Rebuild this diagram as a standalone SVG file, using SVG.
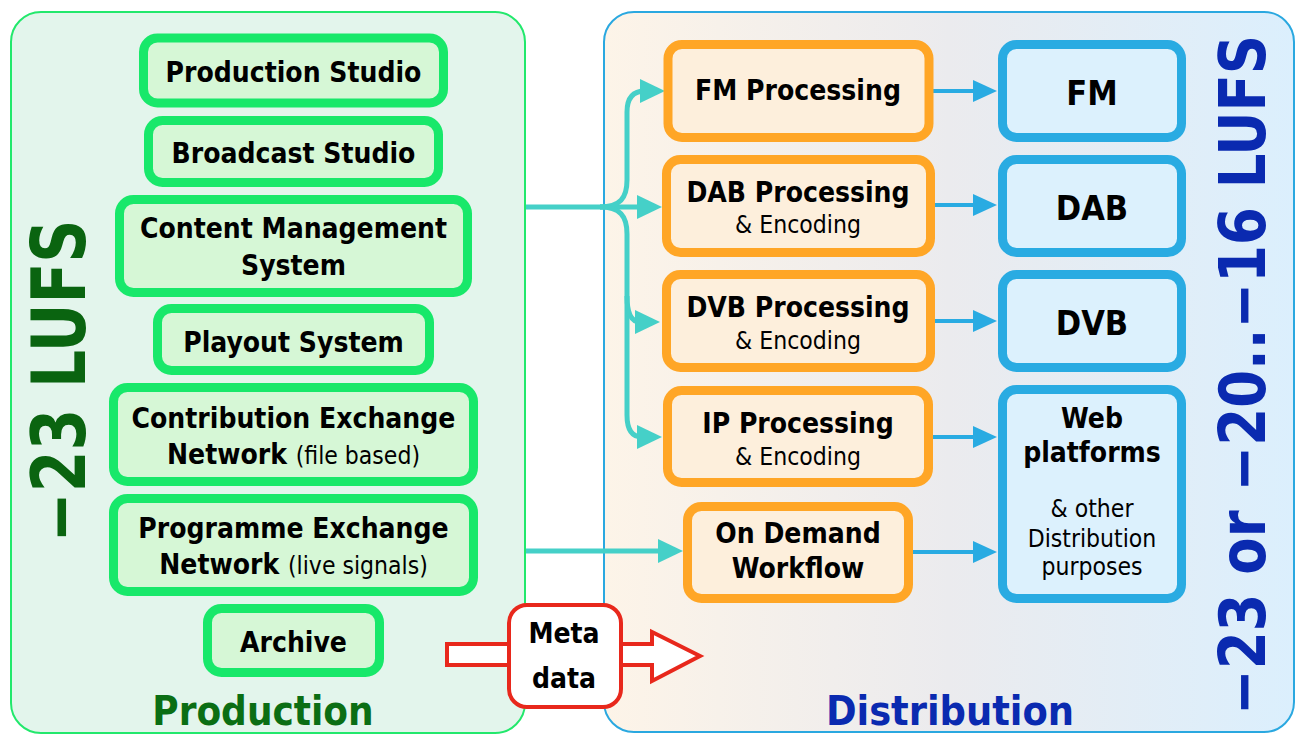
<svg xmlns="http://www.w3.org/2000/svg" width="1296" height="734" viewBox="0 0 1296 734">
  <defs>
    <linearGradient id="distFill" x1="0" y1="0" x2="1" y2="0">
      <stop offset="0" stop-color="#fdf4e8"/>
      <stop offset="0.5" stop-color="#ebebee"/>
      <stop offset="1" stop-color="#dbeffd"/>
    </linearGradient>
    <marker id="tealHead" viewBox="0 0 25 24" markerWidth="25" markerHeight="24" refX="5" refY="12" orient="auto" markerUnits="userSpaceOnUse">
      <path d="M0,0 L25,12 L0,24 z" fill="#45d0c8"/>
    </marker>
    <marker id="blueHead" viewBox="0 0 24 22" markerWidth="24" markerHeight="22" refX="4" refY="11" orient="auto" markerUnits="userSpaceOnUse">
      <path d="M0,0 L24,11 L0,22 z" fill="#29abe2"/>
    </marker>
  </defs>
  <style>
    text { font-family: "DejaVu Sans Condensed", "DejaVu Sans", "Liberation Sans", sans-serif; font-stretch: condensed; text-anchor: middle; fill: #000; }
    .b { font-weight: bold; font-size: 28px; }
    .s { font-weight: normal; font-size: 24.5px; }
    .big { font-weight: bold; font-size: 34px; }
    .prod rect { fill: #d6f7d6; stroke: #18e86a; stroke-width: 9; }
    .proc rect { fill: #fdefdc; stroke: #ffa626; stroke-width: 9; }
    .out rect { fill: #dcf1fd; stroke: #29abe2; stroke-width: 9; }
    .teal { fill: none; stroke: #45d0c8; stroke-width: 5; marker-end: url(#tealHead); }
    .blue { fill: none; stroke: #29abe2; stroke-width: 4; marker-end: url(#blueHead); }
  </style>

  <!-- panels -->
  <g id="production-panel">
    <rect x="11" y="12" width="514" height="721" rx="30" fill="#e3f5ec" stroke="#22e86c" stroke-width="2"/>
    <text x="85" y="381" transform="rotate(-90 85 381)" font-weight="bold" font-size="74" textLength="323" lengthAdjust="spacingAndGlyphs" style="fill:#0a6410">−23 LUFS</text>
    <text x="263" y="725" font-weight="bold" font-size="40" style="fill:#0b6e14">Production</text>
  </g>
  <g id="distribution-panel">
    <rect x="604" y="12" width="690" height="720" rx="30" fill="url(#distFill)" stroke="#2aa8e0" stroke-width="2"/>
    <text x="1265" y="375" transform="rotate(-90 1265 375)" font-weight="bold" font-size="64" textLength="680" lengthAdjust="spacingAndGlyphs" style="fill:#0a2ab0">−23 or −20..−16 LUFS</text>
    <text x="950" y="725" font-weight="bold" font-size="41" style="fill:#0a2ab0">Distribution</text>
  </g>

  <!-- connectors -->
  <g id="connectors">
    <path class="teal" d="M526,207 H642"/>
    <path class="teal" d="M600,207 C620,207 627,198 627,180 V112 Q627,91 645,91"/>
    <path class="teal" d="M600,207 C620,207 627,216 627,234 V415 Q627,437 642,437"/>
    <path class="teal" d="M627,296 Q627,322 640,322"/>
    <path class="teal" d="M526,551 H663"/>
    <path class="blue" d="M933,91 H977"/>
    <path class="blue" d="M935,205 H977"/>
    <path class="blue" d="M935,321 H977"/>
    <path class="blue" d="M933,437 H977"/>
    <path class="blue" d="M913,552 H977"/>
  </g>

  <!-- production nodes -->
  <g id="production-studio" class="prod">
    <rect x="143.5" y="38" width="300" height="65" rx="14"/>
    <text class="b" x="293.5" y="82">Production Studio</text>
  </g>
  <g id="broadcast-studio" class="prod">
    <rect x="148.5" y="120.5" width="290" height="62" rx="14"/>
    <text class="b" x="293.5" y="163">Broadcast Studio</text>
  </g>
  <g id="content-management" class="prod">
    <rect x="119.5" y="199.5" width="348" height="93" rx="14"/>
    <text class="b" x="293.5" y="238">Content Management</text>
    <text class="b" x="293.5" y="275">System</text>
  </g>
  <g id="playout-system" class="prod">
    <rect x="157.5" y="308.5" width="272" height="62" rx="14"/>
    <text class="b" x="293.5" y="352">Playout System</text>
  </g>
  <g id="contribution-exchange" class="prod">
    <rect x="113.5" y="387.5" width="360" height="94" rx="14"/>
    <text class="b" x="293.5" y="428">Contribution Exchange</text>
    <text class="b" x="293.5" y="464">Network <tspan class="s">(file based)</tspan></text>
  </g>
  <g id="programme-exchange" class="prod">
    <rect x="113.5" y="498.5" width="360" height="93" rx="14"/>
    <text class="b" x="293.5" y="538">Programme Exchange</text>
    <text class="b" x="293.5" y="574">Network <tspan class="s">(live signals)</tspan></text>
  </g>
  <g id="archive" class="prod">
    <rect x="207.5" y="608.5" width="172" height="64" rx="14"/>
    <text class="b" x="293.5" y="652">Archive</text>
  </g>

  <!-- processing nodes -->
  <g id="fm-processing" class="proc">
    <rect x="668" y="44.5" width="261" height="93" rx="14"/>
    <text class="b" x="798" y="100">FM Processing</text>
  </g>
  <g id="dab-processing" class="proc">
    <rect x="666.5" y="159.5" width="264" height="93" rx="14"/>
    <text class="b" x="798" y="202">DAB Processing</text>
    <text class="s" x="798" y="233">&amp; Encoding</text>
  </g>
  <g id="dvb-processing" class="proc">
    <rect x="666.5" y="274.5" width="264" height="93" rx="14"/>
    <text class="b" x="798" y="317">DVB Processing</text>
    <text class="s" x="798" y="349">&amp; Encoding</text>
  </g>
  <g id="ip-processing" class="proc">
    <rect x="667.5" y="390.5" width="261" height="92" rx="14"/>
    <text class="b" x="798" y="433">IP Processing</text>
    <text class="s" x="798" y="465">&amp; Encoding</text>
  </g>
  <g id="on-demand-workflow" class="proc">
    <rect x="687.5" y="506.5" width="221" height="92" rx="14"/>
    <text class="b" x="798" y="543">On Demand</text>
    <text class="b" x="798" y="578">Workflow</text>
  </g>

  <!-- distribution outputs -->
  <g id="fm" class="out">
    <rect x="1002.5" y="44.5" width="179" height="93" rx="14"/>
    <text class="big" x="1092" y="105">FM</text>
  </g>
  <g id="dab" class="out">
    <rect x="1002.5" y="159.5" width="179" height="93" rx="14"/>
    <text class="big" x="1092" y="220">DAB</text>
  </g>
  <g id="dvb" class="out">
    <rect x="1002.5" y="274.5" width="179" height="93" rx="14"/>
    <text class="big" x="1092" y="335">DVB</text>
  </g>
  <g id="web-platforms" class="out">
    <rect x="1002.5" y="389.5" width="179" height="209" rx="14"/>
    <text class="b" x="1092" y="428">Web</text>
    <text class="b" x="1092" y="462">platforms</text>
    <text class="s" x="1092" y="517">&amp; other</text>
    <text class="s" x="1092" y="547">Distribution</text>
    <text class="s" x="1092" y="575">purposes</text>
  </g>

  <!-- metadata block arrow -->
  <g id="metadata">
    <path d="M447,644 H652 V632 L700,656 L652,681 V665 H447 Z" fill="#fff" stroke="#e8281c" stroke-width="4" stroke-linejoin="miter"/>
    <rect x="509" y="605" width="112" height="102" rx="18" fill="#fff" stroke="#e8281c" stroke-width="4"/>
    <text class="b" x="564" y="643" font-size="35">Meta</text>
    <text class="b" x="564" y="688" font-size="35">data</text>
  </g>
</svg>
